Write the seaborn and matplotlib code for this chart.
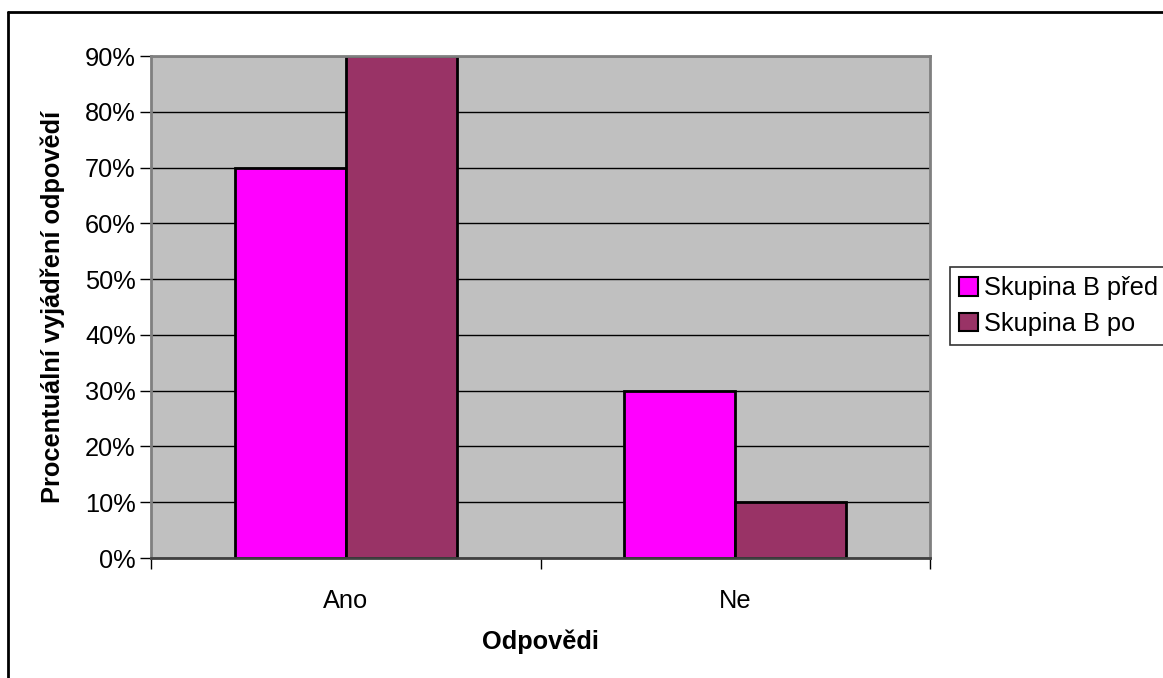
import matplotlib
matplotlib.use('Agg')
import matplotlib.pyplot as plt
import seaborn as sns
import pandas as pd
from matplotlib.lines import Line2D
from matplotlib.patches import Patch
from matplotlib.ticker import FixedLocator, PercentFormatter

categories = ["Ano", "Ne"]
groups = ["Skupina B před", "Skupina B po"]
pred = [0.70, 0.30]
po = [0.90, 0.10]
colors = ["#FF00FF", "#993366"]

df = pd.DataFrame({
    "odpoved": categories * 2,
    "skupina": [groups[0]] * 2 + [groups[1]] * 2,
    "hodnota": pred + po,
})

sns.set_theme(style="white")
plt.rcParams['font.family'] = ['Liberation Sans', 'DejaVu Sans']
plt.rcParams['text.color'] = 'black'
plt.rcParams['axes.labelcolor'] = 'black'
plt.rcParams['xtick.color'] = 'black'
plt.rcParams['ytick.color'] = 'black'

fs = 18.3

fig = plt.figure(figsize=(11.63, 6.78), dpi=100)
ax = fig.add_axes([151 / 1163, 1 - 558 / 678, (930 - 151) / 1163, (558 - 56) / 678])

sns.barplot(data=df, x="odpoved", y="hodnota", hue="skupina", palette=colors,
            width=0.57, edgecolor="black", linewidth=2, saturation=1, ax=ax)
ax.get_legend().remove()

ax.set_facecolor("#C0C0C0")
ax.set_ylim(0, 0.9)
ax.set_xlim(-0.5, 1.5)
ax.set_yticks([i / 10 for i in range(10)])
ax.yaxis.set_major_formatter(PercentFormatter(1.0, decimals=0))
ax.yaxis.grid(True, color="black", linewidth=1)
ax.set_axisbelow(True)

ax.xaxis.set_minor_locator(FixedLocator([-0.5, 0.5, 1.5]))
ax.tick_params(axis='x', which='major', length=0, labelsize=fs, pad=22)
ax.tick_params(axis='x', which='minor', length=8, width=1, color="black", direction='out')
ax.tick_params(axis='y', length=8, width=1, color="black", direction='out', labelsize=fs, pad=3)
ax.xaxis.set_ticks_position('bottom')
ax.yaxis.set_ticks_position('left')

for s in ["top", "right", "left"]:
    ax.spines[s].set_color("#808080")
    ax.spines[s].set_linewidth(2)
ax.spines["bottom"].set_color("#404040")
ax.spines["bottom"].set_linewidth(2)

ax.set_xlabel("Odpovědi", fontsize=fs, fontweight="bold", labelpad=12)
ax.set_ylabel("Procentuální vyjádření odpovědí", fontsize=fs, fontweight="bold", labelpad=14)

handles = [Patch(facecolor=c, edgecolor="black", linewidth=1.5) for c in colors]
leg = fig.legend(handles, groups, loc="center left", bbox_to_anchor=(950 / 1163, 1 - 306 / 678),
                 fontsize=fs, frameon=True, fancybox=False, edgecolor="black",
                 handlelength=0.75, handleheight=0.75, handletextpad=0.25, borderpad=0.35,
                 labelspacing=0.45, borderaxespad=0)
leg.get_frame().set_linewidth(1.2)

# outer frame lines
fig.add_artist(Line2D([8 / 1163, 1], [1 - 12 / 678] * 2, color="black", linewidth=2))
fig.add_artist(Line2D([8 / 1163] * 2, [0, 1 - 12 / 678], color="black", linewidth=2))

fig.savefig("out.png", dpi=100)
